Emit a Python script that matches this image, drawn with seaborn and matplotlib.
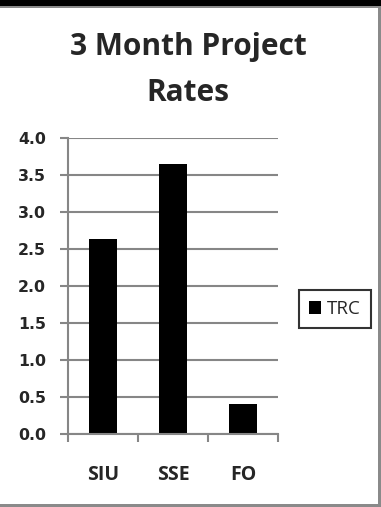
import matplotlib
matplotlib.use("Agg")
import matplotlib.pyplot as plt
from matplotlib.patches import Rectangle
from matplotlib.ticker import FixedLocator
import seaborn as sns
import pandas as pd

categories = ["SIU", "SSE", "FO"]
values = [2.63, 3.65, 0.40]
series_name = "TRC"
yticks = [0.0, 0.5, 1.0, 1.5, 2.0, 2.5, 3.0, 3.5, 4.0]
title = "3 Month Project\nRates"

sns.set_theme(style="white")
plt.rcParams["font.family"] = ["Open Sans", "DejaVu Sans"]

W, H = 381, 507
fig = plt.figure(figsize=(W / 100, H / 100), dpi=100)
fig.patch.set_facecolor("white")

def fx(x):
    return x / W

def fy(y):
    return 1 - y / H

ax = fig.add_axes([fx(68), fy(434), fx(278) - fx(68), (434 - 138) / H])
df = pd.DataFrame({"cat": categories, "val": values})
sns.barplot(data=df, x="cat", y="val", color="black", width=0.4,
            saturation=1, label=series_name, ax=ax, edgecolor="none")

grid_c = "#868686"
ax.set_xlim(-0.5, 2.5)
ax.set_ylim(0, 4.0)
ax.set_yticks(yticks)
ax.set_yticklabels([f"{v:.1f}" for v in yticks], family="DejaVu Sans",
                   fontweight="bold", fontsize=11.3)
ax.yaxis.grid(True, color=grid_c, linewidth=1.5)
ax.set_axisbelow(True)
ax.tick_params(axis="y", length=6, width=1.5, color=grid_c, pad=10, left=True)
ax.set_xticks(range(len(categories)))
ax.set_xticklabels(categories, fontweight="bold", fontsize=14)
ax.xaxis.set_minor_locator(FixedLocator([-0.5, 0.5, 1.5, 2.5]))
ax.tick_params(axis="x", which="major", length=0, pad=22)
ax.tick_params(axis="x", which="minor", length=6, width=1.5, color=grid_c,
               bottom=True)
for s in ["top", "right"]:
    ax.spines[s].set_visible(False)
for s in ["left", "bottom"]:
    ax.spines[s].set_color(grid_c)
    ax.spines[s].set_linewidth(1.5)
ax.set_xlabel("")
ax.set_ylabel("")

fig.text(fx(188), fy(70), title, ha="center", va="center", fontsize=21.5,
         fontweight="bold", linespacing=1.68)

leg = ax.legend(loc="center", bbox_to_anchor=(fx(335), fy(309)),
                bbox_transform=fig.transFigure, frameon=True, fancybox=False,
                fontsize=13.5, handlelength=0.65, handleheight=0.65,
                handletextpad=0.3, borderpad=0.55, borderaxespad=0)
leg.get_frame().set_edgecolor("black")
leg.get_frame().set_linewidth(1.5)

# chart-area borders
fig.add_artist(Rectangle((0, fy(6)), 1, 6 / H, transform=fig.transFigure,
                         facecolor="black", edgecolor="none"))
fig.add_artist(Rectangle((0, fy(8)), 1, 2 / H, transform=fig.transFigure,
                         facecolor="#8a8a8a", edgecolor="none"))
fig.add_artist(Rectangle((fx(378), 0), 3 / W, fy(6), transform=fig.transFigure,
                         facecolor="#8a8a8a", edgecolor="none"))
fig.add_artist(Rectangle((0, 0), 1, 3 / H, transform=fig.transFigure,
                         facecolor="#8a8a8a", edgecolor="none"))

fig.savefig("out.png", dpi=100)
